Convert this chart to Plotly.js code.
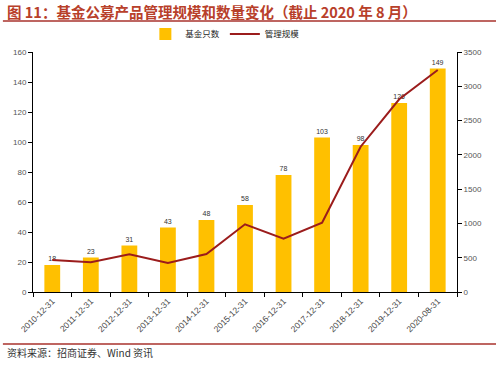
<!DOCTYPE html>
<html><head><meta charset="utf-8">
<script src="https://cdn.plot.ly/plotly-3.0.1.min.js"></script>
<style>body{margin:0;padding:0;background:#fff}#c{width:500px;height:366px}</style>
</head><body><div id="c"></div>
<script>
const categories = ["2010-12-31","2011-12-31","2012-12-31","2013-12-31","2014-12-31","2015-12-31","2016-12-31","2017-12-31","2018-12-31","2019-12-31","2020-08-31"];
const fundCount = [18,23,31,43,48,58,78,103,98,126,149];
const aum = [467,433,550,423,554,987,778,1011,2119,2810,3237];
const leftTicks = [0,20,40,60,80,100,120,140,160];
const rightTicks = [0,500,1000,1500,2000,2500,3000,3500];

const cjk = '"Noto Sans CJK SC", "Liberation Sans", sans-serif';
const traces = [
  {type:'bar', name:'基金只数', x:categories, y:fundCount, marker:{color:'#FFC000'},
   text:fundCount.map(String), textposition:'outside', cliponaxis:false,
   textfont:{size:7, color:'#333', family:'"Liberation Sans", sans-serif'}, yaxis:'y'},
  {type:'scatter', mode:'lines', name:'管理规模', x:categories, y:aum,
   line:{color:'#9B1C1C', width:2}, yaxis:'y2'}
];
const layout = {
  width:500, height:366,
  margin:{l:33, r:43, t:52, b:74},
  paper_bgcolor:'#fff', plot_bgcolor:'#fff',
  font:{family:cjk, size:8, color:'#333'},
  bargap:0.59,
  showlegend:true,
  legend:{orientation:'h', x:0.265, xanchor:'left', y:1.075, yanchor:'middle',
          font:{size:8.5, color:'#222', family:cjk}, itemwidth:30, tracegroupgap:0,
          bgcolor:'rgba(0,0,0,0)'},
  xaxis:{type:'category', tickangle:-45, showline:true, linecolor:'#000', linewidth:1,
         ticks:'outside', tickson:'boundaries', ticklen:4, tickcolor:'#000',
         tickfont:{size:8.5, color:'#444', family:'"Liberation Sans", sans-serif'}, showgrid:false, zeroline:false},
  yaxis:{range:[0,160], tickvals:leftTicks, showline:true, linecolor:'#000', linewidth:1,
         ticks:'outside', ticklen:4, tickcolor:'#000', showgrid:false, zeroline:false,
         tickfont:{size:8, color:'#555', family:'"Liberation Sans", sans-serif'}},
  yaxis2:{range:[0,3500], tickvals:rightTicks, overlaying:'y', side:'right', showline:true,
          linecolor:'#000', linewidth:1, ticks:'outside', ticklen:4, tickcolor:'#000',
          showgrid:false, zeroline:false,
          tickfont:{size:8, color:'#555', family:'"Liberation Sans", sans-serif'}},
  annotations:[
    {xref:'paper', yref:'paper', x:-0.066, xanchor:'left', y:1+(52-12)/240, yanchor:'middle',
     text:'<b>图 11：基金公募产品管理规模和数量变化（截止 2020 年 8 月）</b>', showarrow:false,
     font:{size:14.5, color:'#B8402A', family:cjk}},
    {xref:'paper', yref:'paper', x:-0.066, xanchor:'left', y:-(352-292)/240, yanchor:'middle',
     text:'资料来源：招商证券、Wind 资讯', showarrow:false,
     font:{size:10, color:'#333', family:cjk}}
  ],
  shapes:[
    {type:'line', xref:'paper', yref:'paper', x0:-0.071, x1:1.092, y0:1+(52-21)/240, y1:1+(52-21)/240,
     line:{color:'#A8322D', width:1.5}},
    {type:'line', xref:'paper', yref:'paper', x0:-0.071, x1:1.092, y0:-(344-292)/240, y1:-(344-292)/240,
     line:{color:'#A8322D', width:1.5}}
  ]
};
Plotly.newPlot('c', traces, layout, {displayModeBar:false, staticPlot:true});
</script></body></html>
